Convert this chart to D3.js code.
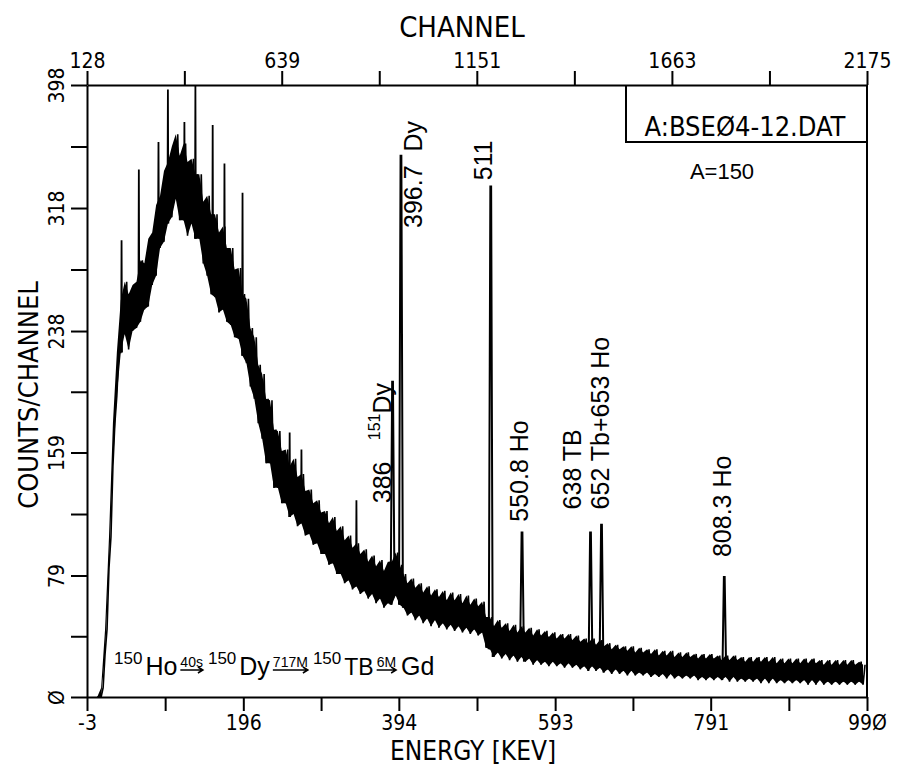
<!DOCTYPE html>
<html>
<head>
<meta charset="utf-8">
<script src="https://cdn.jsdelivr.net/npm/d3@7"></script>
<style>
  body { margin: 0; background: #fff; }
  svg { display: block; }
</style>
</head>
<body>
<script>
// gamma spectrum, A=150 (BSE04-12.DAT)

const specStart = 10;
const specStep = 5;
const specLo = [
  0, 0, 28, 84, 150, 196, 224, 236, 226, 238,
  240, 244, 252, 254, 268, 274, 292, 296, 308, 312,
  324, 310, 310, 300, 308, 298, 298, 282, 274, 262,
  260, 250, 252, 244, 242, 234, 233, 222, 217, 202,
  194, 178, 168, 152, 152, 136, 136, 126, 126, 117,
  119, 111, 113, 105, 106, 99, 100, 93, 93, 86,
  87, 80, 80, 74, 76, 70, 72, 67, 69, 64,
  67, 61, 64, 58, 61, 60, 66, 60, 58, 53,
  55, 50, 53, 48, 51, 46, 50, 45, 48, 44,
  47, 43, 46, 42, 45, 41, 44, 40, 42, 32,
  31, 26, 29, 25, 28, 24, 27, 23, 26, 23,
  25, 21, 24, 21, 23, 20, 23, 20, 22, 19,
  22, 19, 21, 18, 20, 17, 20, 17, 19, 16,
  18, 15, 18, 15, 17, 14, 17, 14, 16, 14,
  16, 13, 15, 13, 15, 12, 15, 12, 14, 12,
  14, 12, 14, 11, 13, 11, 13, 11, 13, 11,
  13, 10, 13, 10, 12, 10, 12, 10, 12, 9,
  12, 9, 12, 9, 11, 9, 11, 9, 11, 9,
  11, 8, 11, 8, 11, 8, 10, 8, 10, 8,
  10, 8, 10, 8, 10, 8
];
const specHi = [
  0, 6, 44, 104, 178, 224, 258, 270, 262, 268,
  270, 284, 282, 298, 302, 320, 326, 342, 348, 358,
  366, 352, 360, 348, 350, 340, 340, 322, 326, 314,
  314, 302, 306, 292, 292, 278, 279, 262, 259, 240,
  234, 216, 210, 194, 193, 174, 173, 160, 161, 150,
  155, 143, 145, 134, 135, 126, 128, 120, 121, 113,
  117, 108, 111, 102, 105, 97, 100, 93, 96, 88,
  92, 85, 89, 82, 88, 88, 94, 86, 80, 74,
  77, 71, 74, 68, 72, 66, 70, 65, 69, 63,
  68, 63, 67, 61, 66, 60, 64, 59, 62, 52,
  52, 46, 50, 45, 48, 43, 47, 42, 46, 42,
  45, 40, 44, 40, 43, 39, 42, 38, 41, 38,
  41, 37, 40, 36, 38, 35, 38, 34, 37, 33,
  35, 31, 34, 31, 33, 30, 33, 29, 32, 29,
  31, 28, 31, 27, 30, 27, 30, 26, 29, 26,
  29, 26, 28, 25, 28, 25, 28, 25, 27, 24,
  27, 24, 27, 24, 26, 23, 26, 23, 26, 23,
  26, 23, 26, 22, 25, 22, 25, 22, 25, 22,
  25, 22, 25, 22, 24, 21, 24, 21, 24, 21,
  24, 21, 24, 21, 23, 21
];

// single-channel noise spikes in the hump
const spikeE = [41, 63, 88, 100, 121, 135, 157, 172, 195, 255, 270, 340];
const spikeTop = [297, 343, 361, 395, 374, 398, 372, 347, 328, 172, 161, 128];

// gamma lines
const peakE = [386, 396.7, 511, 550.8, 638, 652, 808.3];
const peakTop = [205, 352, 332, 107, 107, 112, 78];

// peak labels (energy / counts where the rotated text starts)
const labelText = ['386', '396.7  Dy', '511', '550.8 Ho', '638 TB', '652 Tb+653 Ho', '808.3 Ho'];
const labelE = [384, 424, 512, 559, 626, 661, 817];
const labelC = [126, 305, 336, 114, 122, 122, 91];

// axis ticks
const energyTicks = [-3, 196, 394, 593, 791, 990];
const channelTicks = [128, 639, 1151, 1663, 2175];
const countTicks = [0, 79, 159, 238, 318, 398];

const width = 899, height = 769;
const plot = {left: 87, right: 867, top: 85, bottom: 697};

const svg = d3.select('body').append('svg')
  .attr('width', width)
  .attr('height', height)
  .style('background', '#fff');

const x = d3.scaleLinear().domain([-3, 990]).range([plot.left, plot.right]);
const xTop = d3.scaleLinear().domain([128, 2175]).range([plot.left, plot.right]);
const y = d3.scaleLinear().domain([0, 398]).range([plot.bottom, plot.top]);

const axisFont = "'DejaVu Sans Condensed', 'Liberation Sans Narrow', sans-serif";
const labelFont = "'Liberation Sans', Arial, sans-serif";
const slashZero = (s) => String(s).replace(/0/g, 'Ø');

// majors + halfway minors
function withMinors(ticks) {
  const out = [];
  ticks.forEach((t, i) => {
    out.push(t);
    if (i < ticks.length - 1) out.push((t + ticks[i + 1]) / 2);
  });
  return out;
}

function styleAxis(g) {
  g.selectAll('path.domain').attr('stroke', '#000').attr('stroke-width', 2);
  g.selectAll('.tick line').attr('stroke', '#000').attr('stroke-width', 2);
  g.selectAll('.tick text')
    .attr('fill', '#000')
    .style('font-family', axisFont)
    .style('font-size', '21px');
}

// bottom: energy
const gBottom = svg.append('g')
  .attr('transform', `translate(0,${plot.bottom})`)
  .call(d3.axisBottom(x)
    .tickValues(withMinors(energyTicks))
    .tickSize(14).tickSizeOuter(0).tickPadding(4)
    .tickFormat((d) => energyTicks.includes(d) ? slashZero(d) : ''));
styleAxis(gBottom);

// top: channel
const gTop = svg.append('g')
  .attr('transform', `translate(0,${plot.top})`)
  .call(d3.axisTop(xTop)
    .tickValues(withMinors(channelTicks))
    .tickSize(14).tickSizeOuter(0).tickPadding(3)
    .tickFormat((d) => channelTicks.includes(d) ? slashZero(d) : ''));
styleAxis(gTop);

// left: counts, labels rotated
const gLeft = svg.append('g')
  .attr('transform', `translate(${plot.left},0)`)
  .call(d3.axisLeft(y)
    .tickValues(withMinors(countTicks))
    .tickSize(16).tickSizeOuter(0)
    .tickFormat((d) => countTicks.includes(d) ? slashZero(d) : ''));
styleAxis(gLeft);
gLeft.selectAll('.tick text')
  .attr('x', null).attr('dy', null)
  .attr('text-anchor', 'middle')
  .attr('transform', 'translate(-23,0) rotate(-90)');

// right frame
svg.append('line')
  .attr('x1', plot.right).attr('x2', plot.right)
  .attr('y1', plot.top).attr('y2', plot.bottom)
  .attr('stroke', '#000').attr('stroke-width', 2);

// axis titles
svg.append('text')
  .attr('x', 462).attr('y', 37)
  .attr('text-anchor', 'middle')
  .style('font-family', axisFont).style('font-size', '29px')
  .text('CHANNEL');

svg.append('text')
  .attr('x', 473).attr('y', 760)
  .attr('text-anchor', 'middle')
  .style('font-family', axisFont).style('font-size', '26px')
  .text('ENERGY [KEV]');

svg.append('text')
  .attr('transform', 'translate(38,395) rotate(-90)')
  .attr('text-anchor', 'middle')
  .style('font-family', axisFont).style('font-size', '27px')
  .text('COUNTS/CHANNEL');

// file name box
svg.append('path')
  .attr('d', `M626,${plot.top}V142H${plot.right}`)
  .attr('fill', 'none').attr('stroke', '#000').attr('stroke-width', 2);
svg.append('text')
  .attr('x', 745).attr('y', 136)
  .attr('text-anchor', 'middle')
  .style('font-family', axisFont).style('font-size', '27px')
  .text('A:BSEØ4-12.DAT');
svg.append('text')
  .attr('x', 722).attr('y', 179)
  .attr('text-anchor', 'middle')
  .style('font-family', labelFont).style('font-size', '22px')
  .text('A=150');

// spectrum: solid band between the envelope values, zigzag edges
const pts = [];
specLo.forEach((v, i) => {
  const e = specStart + i * specStep;
  pts.push([e, v, specHi[i]]);
});
const line = d3.line().x((d) => x(d[0])).y((d) => y(d[1]));
const area = d3.area()
  .x((d) => x(d[0]))
  .y0((d) => y(d[1]))
  .y1((d) => y(d[2]));

const zig = [];
pts.forEach((p) => {
  zig.push([p[0], p[1]]);
  zig.push([p[0] + specStep / 2, p[2]]);
});

const gSpec = svg.append('g');
gSpec.append('path')
  .datum(pts)
  .attr('d', area)
  .attr('fill', '#000');
gSpec.append('path')
  .datum(zig)
  .attr('d', line)
  .attr('fill', 'none').attr('stroke', '#000')
  .attr('stroke-width', 1.6).attr('stroke-linejoin', 'miter');

const baseAt = (e) => specLo[Math.max(0, Math.min(specLo.length - 1, Math.round((e - specStart) / specStep)))];

gSpec.selectAll('path.spike')
  .data(spikeE)
  .join('path')
  .attr('class', 'spike')
  .attr('d', (e, i) => line([[e - 0.6, baseAt(e)], [e, spikeTop[i]], [e + 0.6, baseAt(e)]]))
  .attr('fill', 'none').attr('stroke', '#000').attr('stroke-width', 1.8);

gSpec.selectAll('path.peak')
  .data(peakE)
  .join('path')
  .attr('class', 'peak')
  .attr('d', (e, i) => line([[e - 2.5, baseAt(e - 3)], [e - 0.5, peakTop[i]], [e + 0.5, peakTop[i]], [e + 2.5, baseAt(e + 3)]]))
  .attr('fill', 'none').attr('stroke', '#000').attr('stroke-width', 2);

// peak labels, rotated
svg.selectAll('text.plabel')
  .data(labelText)
  .join('text')
  .attr('class', 'plabel')
  .attr('transform', (d, i) => `translate(${x(labelE[i])},${y(labelC[i])}) rotate(-90)`)
  .style('font-family', labelFont).style('font-size', '25px')
  .style('white-space', 'pre')
  .text((d) => d);

const dyLab = svg.append('text')
  .attr('transform', `translate(${x(384)},${y(167)}) rotate(-90)`)
  .style('font-family', labelFont).style('font-size', '25px');
dyLab.append('tspan').attr('font-size', '16px').attr('dy', -11).text('151');
dyLab.append('tspan').attr('dy', 11).text('Dy');

// decay chain
const chain = [
  {t: '150', size: 17, dy: -11},
  {t: 'Ho', size: 25, dy: 0},
  {t: '40s', size: 14, dy: -8, arrow: true},
  {t: '150', size: 17, dy: -11},
  {t: 'Dy', size: 25, dy: 0},
  {t: '717M', size: 14, dy: -8, arrow: true},
  {t: '150', size: 17, dy: -11},
  {t: 'TB', size: 23, dy: 0},
  {t: '6M', size: 14, dy: -8, arrow: true},
  {t: 'Gd', size: 25, dy: 0}
];
const gChain = svg.append('g');
let cx = 114;
const chainBase = 675;
chain.forEach((p) => {
  const t = gChain.append('text')
    .attr('x', cx).attr('y', chainBase + p.dy)
    .style('font-family', labelFont).style('font-size', p.size + 'px')
    .text(p.t);
  const w = t.node().getComputedTextLength();
  if (p.arrow) {
    const ay = chainBase - 5;
    gChain.append('path')
      .attr('d', `M${cx},${ay}H${cx + w}M${cx + w - 5},${ay - 3}L${cx + w},${ay}L${cx + w - 5},${ay + 3}`)
      .attr('fill', 'none').attr('stroke', '#000').attr('stroke-width', 1.5);
  }
  cx += w + (p.arrow ? 5 : 3);
});
</script>
</body>
</html>
